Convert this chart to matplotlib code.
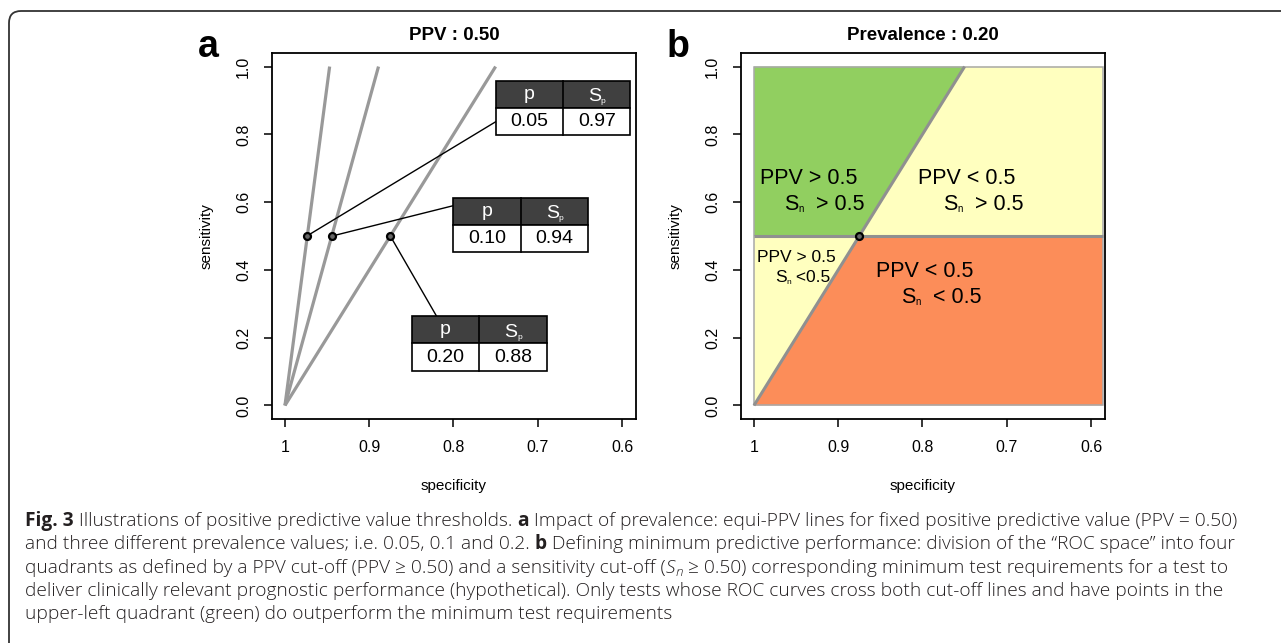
import matplotlib
matplotlib.use('Agg')
import matplotlib.pyplot as plt
from matplotlib.patches import Rectangle, Polygon, FancyBboxPatch
from matplotlib.font_manager import FontProperties
from matplotlib.transforms import IdentityTransform

W, H = 1281, 643
plt.rcParams['font.family'] = ['Liberation Sans', 'DejaVu Sans']

# ---- data ----
prevalence = ['0.05', '0.10', '0.20']
spec_at_sens1 = [0.947, 0.889, 0.75]     # equi-PPV (0.5) line reaches sensitivity 1
spec_at_sens05 = [0.974, 0.944, 0.875]   # where it crosses sensitivity 0.5
spec_labels = ['0.97', '0.94', '0.88']
sens_cut = 0.5

xticks = [1, 0.9, 0.8, 0.7, 0.6]
xticklabels = ['1', '0.9', '0.8', '0.7', '0.6']
yticks = [0, 0.2, 0.4, 0.6, 0.8, 1.0]
yticklabels = ['0.0', '0.2', '0.4', '0.6', '0.8', '1.0']

# table boxes in panel a: (x_left, x_div, x_right, y_top, y_mid, y_bottom), connector end
tables = [(0.750, 0.670, 0.590, 0.958, 0.879, 0.799),
          (0.801, 0.720, 0.640, 0.612, 0.533, 0.453),
          (0.849, 0.770, 0.689, 0.263, 0.183, 0.101)]
conn_end = [(0.750, 0.837), (0.801, 0.589), (0.820, 0.263)]

green, yellow, orange = '#91cf60', '#ffffbf', '#fc8d59'
line_gray = '#909090'

fig = plt.figure(figsize=(W / 100, H / 100), dpi=100)
r = fig.canvas.get_renderer()


def tw(s, fp):
    # advance width including spaces
    a = r.get_text_width_height_descent('|' + s + '|', fp, False)[0]
    b = r.get_text_width_height_descent('||', fp, False)[0]
    return a - b


def runs(x, y, parts, center=False, family=None, color='black', scale=1.0):
    # parts: (text, size, weight, style, dy) ; x, y in display pixels, y = baseline
    fam = family or ['Liberation Sans', 'DejaVu Sans']
    items = []
    cx = x
    for s, size, weight, style, dy in parts:
        fp = FontProperties(family=fam, size=size * scale, weight=weight, style=style)
        items.append((cx, y + dy * scale, s, fp))
        cx += tw(s, fp)
    off = (cx - x) / 2 if center else 0
    for px, py, s, fp in items:
        fig.text(px - off, py, s, fontproperties=fp, transform=IdentityTransform(),
                 va='baseline', ha='left', color=color)
    return cx - x


def setup(ax, title):
    ax.set_xlim(1.0154, 0.5834)
    ax.set_ylim(-0.04, 1.04)
    ax.set_xticks(xticks)
    ax.set_xticklabels(xticklabels)
    ax.set_yticks(yticks)
    ax.set_yticklabels(yticklabels, rotation=90, va='center')
    ax.tick_params(direction='out', length=6, width=1.1, labelsize=11.5)
    ax.tick_params(axis='x', pad=9)
    ax.tick_params(axis='y', pad=9)
    for s in ax.spines.values():
        s.set_linewidth(1.3)
    ax.set_title(title, fontsize=13.5, fontweight='bold', pad=9)
    ax.text(0.5, -0.183, 'specificity', transform=ax.transAxes, ha='center', va='center', fontsize=11)
    ax.text(-0.179, 0.5, 'sensitivity', transform=ax.transAxes, ha='center', va='center',
            rotation=90, fontsize=11)


ax1 = fig.add_axes([272 / W, 1 - 419 / H, 364 / W, 366 / H])
ax2 = fig.add_axes([741 / W, 1 - 419 / H, 364 / W, 366 / H])
setup(ax1, 'PPV : 0.50')
setup(ax2, 'Prevalence : 0.20')

# ---- panel a ----
for i in range(3):
    ax1.plot([1, spec_at_sens1[i]], [0, 1], color='#999999', lw=2.3, solid_capstyle='butt', zorder=2)
for i in range(3):
    ax1.plot([spec_at_sens05[i], conn_end[i][0]], [sens_cut, conn_end[i][1]], color='black', lw=1.0, zorder=3)
    ax1.plot(spec_at_sens05[i], sens_cut, 'o', ms=5, mfc='#666666', mec='black', mew=1.6, zorder=4)

for i, (xl, xd, xr, yt, ym, yb) in enumerate(tables):
    ax1.add_patch(Rectangle((xr, ym), xl - xr, yt - ym, fc='#404040', ec='black', lw=1.2, zorder=5))
    ax1.add_patch(Rectangle((xr, yb), xl - xr, ym - yb, fc='white', ec='black', lw=1.2, zorder=5))
    ax1.plot([xd, xd], [yb, yt], color='black', lw=1.2, zorder=6)
    ax1.text((xl + xd) / 2, (yt + ym) / 2, 'p', color='white', fontsize=14, ha='center', va='center', zorder=7)
    ax1.text((xl + xd) / 2, (ym + yb) / 2, prevalence[i], fontsize=14, ha='center', va='center', zorder=7)
    ax1.text((xd + xr) / 2, (ym + yb) / 2, spec_labels[i], fontsize=14, ha='center', va='center', zorder=7)
    cx, cy = ax1.transData.transform(((xd + xr) / 2, (yt + ym) / 2))
    runs(cx, cy - 7, [('S', 14, 'normal', 'normal', 0), ('p', 6, 'normal', 'normal', -2)],
         center=True, color='white')
    for t in fig.texts[-2:]:
        t.set_zorder(8)

# ---- panel b ----
XR = 0.586
sp1, sp05 = spec_at_sens1[2], spec_at_sens05[2]
ax2.add_patch(Polygon([(1, sens_cut), (1, 1), (sp1, 1), (sp05, sens_cut)], fc=green, ec='none'))
ax2.add_patch(Polygon([(sp05, sens_cut), (sp1, 1), (XR, 1), (XR, sens_cut)], fc=yellow, ec='none'))
ax2.add_patch(Polygon([(1, 0), (1, sens_cut), (sp05, sens_cut)], fc=yellow, ec='none'))
ax2.add_patch(Polygon([(1, 0), (sp05, sens_cut), (XR, sens_cut), (XR, 0)], fc=orange, ec='none'))
ax2.add_patch(Rectangle((XR, 0), 1 - XR, 1, fc='none', ec='#a8a8a8', lw=1.1))
ax2.plot([1, XR], [sens_cut, sens_cut], color=line_gray, lw=2.2, solid_capstyle='butt')
ax2.plot([1, sp1], [0, 1], color=line_gray, lw=2.2, solid_capstyle='butt')
ax2.plot(sp05, sens_cut, 'o', ms=5, mfc='#666666', mec='black', mew=1.6, zorder=5)

labels_b = [
    (0.935, 0.654, [('PPV > 0.5', 15.5, 'normal', 'normal', 0)]),
    (0.917, 0.576, [('S', 15.5, 'normal', 'normal', 0), ('n', 7, 'normal', 'normal', -2),
                    ('  > 0.5', 15.5, 'normal', 'normal', 0)]),
    (0.747, 0.654, [('PPV < 0.5', 15.5, 'normal', 'normal', 0)]),
    (0.728, 0.576, [('S', 15.5, 'normal', 'normal', 0), ('n', 7, 'normal', 'normal', -2),
                    ('  > 0.5', 15.5, 'normal', 'normal', 0)]),
    (0.950, 0.423, [('PPV > 0.5', 12.5, 'normal', 'normal', 0)]),
    (0.942, 0.364, [('S', 12.5, 'normal', 'normal', 0), ('n', 6, 'normal', 'normal', -2),
                    (' <0.5', 12.5, 'normal', 'normal', 0)]),
    (0.797, 0.379, [('PPV < 0.5', 15.5, 'normal', 'normal', 0)]),
    (0.778, 0.302, [('S', 15.5, 'normal', 'normal', 0), ('n', 7, 'normal', 'normal', -2),
                    ('  < 0.5', 15.5, 'normal', 'normal', 0)]),
]
for x, y, parts in labels_b:
    px, py = ax2.transData.transform((x, y))
    runs(px, py, parts, center=True)

# panel letters
fig.text(208 / W, 1 - 47 / H, 'a', fontsize=27, fontweight='bold', ha='center', va='center')
fig.text(678 / W, 1 - 47 / H, 'b', fontsize=27, fontweight='bold', ha='center', va='center')

# ---- caption ----
cap_font = ['Open Sans', 'DejaVu Sans']
cs = 14
N, B, L = 'normal', 'bold', 'light'
cap = [
    [('Fig. 3', cs, B, N, 0), (' Illustrations of positive predictive value thresholds. ', cs, L, N, 0),
     ('a', cs, B, N, 0),
     (' Impact of prevalence: equi-PPV lines for fixed positive predictive value (PPV = 0.50)', cs, L, N, 0)],
    [('and three different prevalence values; i.e. 0.05, 0.1 and 0.2. ', cs, L, N, 0), ('b', cs, B, N, 0),
     (' Defining minimum predictive performance: division of the \u201cROC space\u201d into four', cs, L, N, 0)],
    [('quadrants as defined by a PPV cut-off (PPV \u2265 0.50) and a sensitivity cut-off (', cs, L, N, 0),
     ('S', cs, L, 'italic', 0), ('n', cs * 0.7, L, 'italic', -3),
     (' \u2265 0.50) corresponding minimum test requirements for a test to', cs, L, N, 0)],
    [('deliver clinically relevant prognostic performance (hypothetical). Only tests whose ROC curves '
      'cross both cut-off lines and have points in the', cs, L, N, 0)],
    [('upper-left quadrant (green) do outperform the minimum test requirements', cs, L, N, 0)],
]
# fit the first caption line to the width it has in the original (x 25 .. 1245)
w0 = sum(tw(s, FontProperties(family=cap_font, size=sz, weight=wt, style=st)) for s, sz, wt, st, dy in cap[0])
k = 1220 / w0
baselines = [526, 549, 573, 596, 619]
for parts, yb in zip(cap, baselines):
    runs(25, H - yb, parts, family=cap_font, color='#231f20', scale=k)

# outer rounded frame
frame = FancyBboxPatch((9, -30), 1320, H - 11 + 30, boxstyle='round,pad=0,rounding_size=12',
                       transform=IdentityTransform(), fc='none', ec='#333333', lw=1.3)
fig.add_artist(frame)

fig.savefig('out.png', dpi=100)
